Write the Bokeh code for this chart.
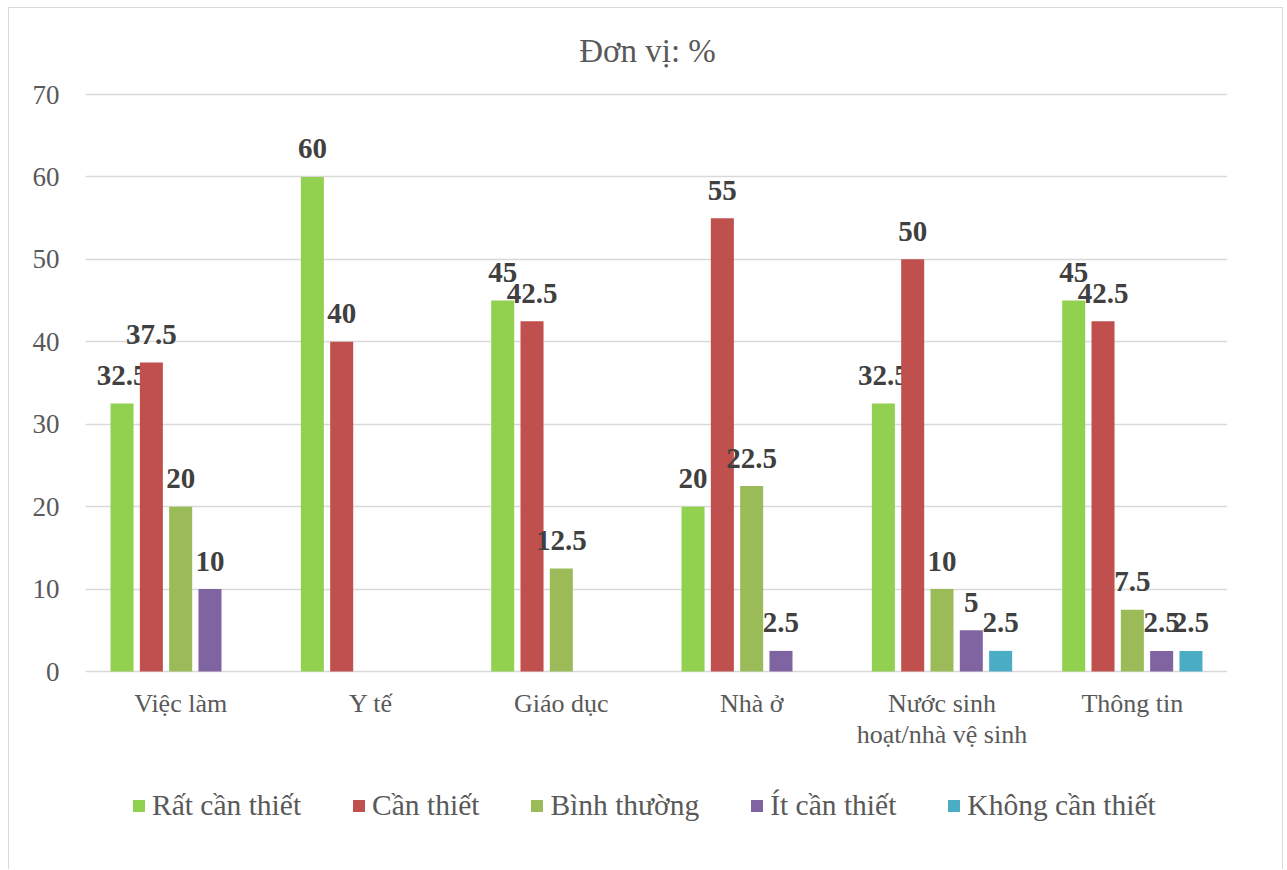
from bokeh.plotting import figure
from bokeh.models import (ColumnDataSource, Legend, LegendItem, FixedTicker,
                          Range1d)
from bokeh.embed import file_html
from bokeh.resources import INLINE

# ---- data -------------------------------------------------------------
categories = ["Việc làm", "Y tế", "Giáo dục", "Nhà ở",
              "Nước sinh\nhoạt/nhà vệ sinh", "Thông tin"]
series_names = ["Rất cần thiết", "Cần thiết", "Bình thường",
                "Ít cần thiết", "Không cần thiết"]
rat_can_thiet = [32.5, 60, 45, 20, 32.5, 45]
can_thiet = [37.5, 40, 42.5, 55, 50, 42.5]
binh_thuong = [20, 0, 12.5, 22.5, 10, 7.5]
it_can_thiet = [10, 0, 0, 2.5, 5, 2.5]
khong_can_thiet = [0, 0, 0, 0, 2.5, 2.5]
y_ticks = [0, 10, 20, 30, 40, 50, 60, 70]
title_text = "Đơn vị: %"

series_values = [rat_can_thiet, can_thiet, binh_thuong, it_can_thiet,
                 khong_can_thiet]
colors = ["#92D050", "#C0504D", "#9BBB59", "#8064A2", "#4BACC6"]

FONT = "Liberation Serif"
TEXT_GREY = "#595959"
GRID = "#d9d9d9"

bar_w = 0.121
step = 0.154
offsets = [(-2 + i) * step for i in range(5)]

# Plot geometry (pixels inside the bordered chart box).  The frame covers the
# whole height so the title, category labels and legend can live inside it;
# the value axis only spans 0..70.
H = 862
axis_top_px, axis_bottom_px = 86, 663          # where 70 and 0 sit
px_per_unit = (axis_bottom_px - axis_top_px) / 70.0
y_hi = 70 + axis_top_px / px_per_unit
y_lo = -(H - axis_bottom_px) / px_per_unit

p = figure(width=1275, height=H, output_backend="svg",
           toolbar_location=None, x_axis_location=None,
           x_range=Range1d(-0.5, len(categories) - 0.5),
           y_range=Range1d(y_lo, y_hi),
           min_border_left=76, min_border_right=57,
           min_border_top=0, min_border_bottom=0)
p.margin = (7, 0, 0, 8)
p.styles = {"border-top": "1px solid #d9d9d9",
            "border-left": "1px solid #d9d9d9",
            "border-right": "1px solid #d9d9d9"}

p.background_fill_color = "white"
p.border_fill_color = "white"
p.outline_line_color = None

# value axis
p.yaxis.ticker = FixedTicker(ticks=y_ticks)
ax = p.yaxis[0]
ax.axis_line_color = None
ax.major_tick_line_color = None
ax.minor_tick_line_color = None
ax.major_tick_out = 0
ax.major_tick_in = 0
ax.major_label_text_font = FONT
ax.major_label_text_color = TEXT_GREY
ax.major_label_text_font_size = "27px"
ax.major_label_standoff = 26

p.xgrid.grid_line_color = None
p.ygrid.grid_line_color = GRID
p.ygrid.grid_line_width = 1.5

# title
p.text(x=[(len(categories) - 1) / 2], y=[70], text=[title_text],
       text_font=FONT, text_font_size="33px", text_color=TEXT_GREY,
       text_align="center", text_baseline="middle",
       x_offset=-9, y_offset=-44)

# category labels under the zero line
cat_src = ColumnDataSource(dict(x=list(range(len(categories))),
                                y=[0] * len(categories), text=categories))
p.text(x="x", y="y", text="text", source=cat_src,
       text_font=FONT, text_font_size="26px", text_color=TEXT_GREY,
       text_align="center", text_baseline="top", text_line_height=1.1,
       y_offset=17)

# bars + value labels
items = []
for name, vals, col, off in zip(series_names, series_values, colors, offsets):
    xs = [i + off for i, v in enumerate(vals) if v > 0]
    ys = [v for v in vals if v > 0]
    src = ColumnDataSource(dict(x=xs, top=ys,
                                label=[f"{v:g}" for v in ys]))
    r = p.vbar(x="x", top="top", width=bar_w, bottom=0, source=src,
               fill_color=col, line_color=None)
    p.text(x="x", y="top", text="label", source=src,
           text_font=FONT, text_font_size="29px", text_font_style="bold",
           text_color="#404040", text_align="center",
           text_baseline="alphabetic", y_offset=-28)
    items.append(LegendItem(label=name, renderers=[r]))

legend = Legend(items=items, orientation="horizontal", location=(46, 48),
                label_text_font=FONT, label_text_font_size="29.5px",
                label_text_color=TEXT_GREY, glyph_width=15, glyph_height=15,
                label_standoff=6, spacing=50, padding=0, margin=0,
                border_line_color=None, background_fill_alpha=0)
p.add_layout(legend, "center")

open("out.html", "w").write(file_html(p, INLINE))
